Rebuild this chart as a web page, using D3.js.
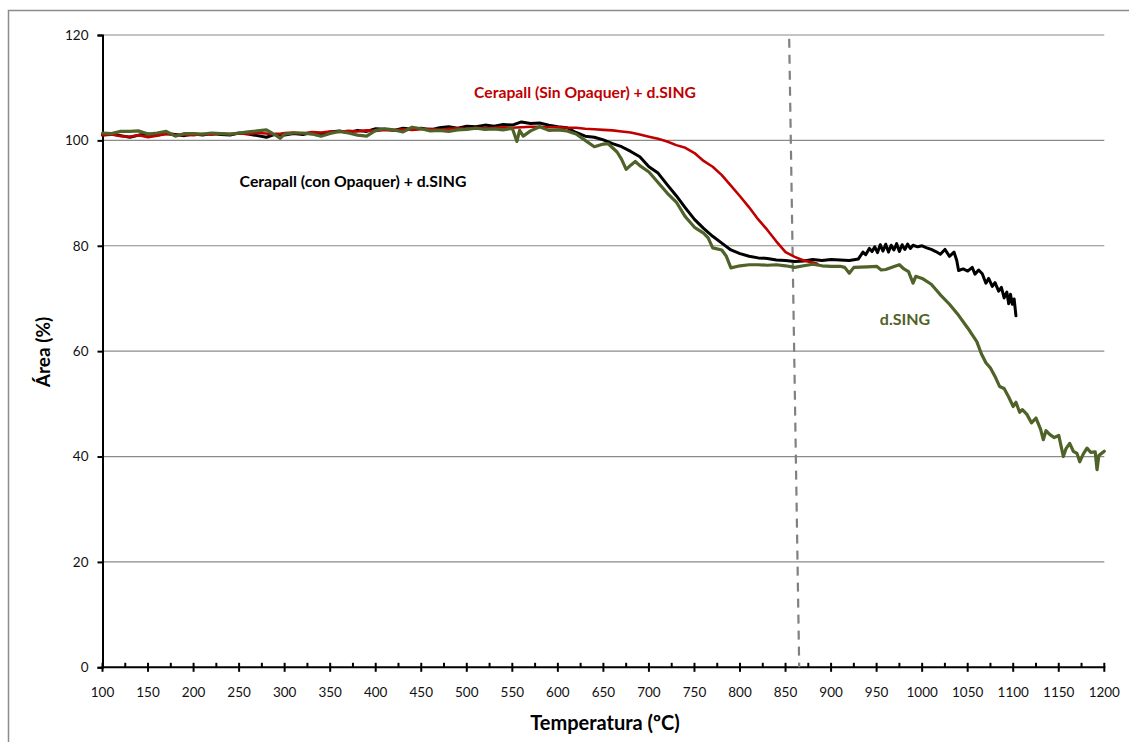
<!DOCTYPE html>
<html>
<head>
<meta charset="utf-8">
<script src="https://cdn.jsdelivr.net/npm/d3@7"></script>
<style>
  html, body { margin: 0; padding: 0; background: #fff; }
  svg { display: block; font-family: Lato, "Liberation Sans", sans-serif; }
</style>
</head>
<body>
<svg id="chart" width="1129" height="742"></svg>
<script>
// Cerapall (Sin Opaquer) + d.SING
const sinTemp = [100,110,120,130,140,150,160,170,180,190,200,210,220,230,240,250,260,270,280,290,300,310,320,330,340,350,360,370,380,390,400,410,420,430,440,450,460,470,480,490,500,510,520,530,540,550,560,570,580,590,600,610,620,630,640,650,660,670,680,690,700,710,720,730,740,750,760,770,780,790,800,810,820,830,840,850,860,870,880,885];
const sinArea = [101.0,101.1,100.8,100.7,101.0,100.6,100.9,101.2,101.0,101.1,101.0,101.2,101.1,101.3,101.2,101.3,101.2,101.4,101.3,101.1,101.4,101.5,101.3,101.6,101.5,101.7,101.6,101.8,101.7,101.9,101.8,102.0,101.9,102.1,102.0,102.1,102.2,102.0,102.2,102.3,102.2,102.4,102.3,102.4,102.5,102.4,102.5,102.6,102.6,102.5,102.5,102.4,102.4,102.2,102.1,102.0,101.9,101.7,101.5,101.1,100.7,100.3,99.8,99.1,98.6,97.6,96.1,95.0,93.4,91.4,89.4,87.3,85.0,83.0,80.8,78.8,77.9,77.2,76.8,76.6];

// Cerapall (con Opaquer) + d.SING
const conTemp = [100,110,120,130,140,150,160,170,180,190,200,210,220,230,240,250,260,270,280,290,300,310,320,330,340,350,360,370,380,390,400,410,420,430,440,450,460,470,480,490,500,510,520,530,540,550,560,570,580,590,600,610,620,630,640,650,660,670,680,690,700,710,720,730,740,750,760,770,780,790,800,810,820,830,840,850,860,870,880,890,900,910,920,930,935,938,942,945,948,951,954,957,960,963,966,969,972,975,978,981,984,987,990,995,1000,1005,1010,1015,1020,1025,1030,1035,1038,1040,1045,1050,1055,1058,1062,1066,1070,1073,1077,1080,1084,1087,1090,1093,1095,1097,1099,1101,1103];
const conArea = [101.0,101.2,100.9,100.6,101.0,101.2,101.0,101.3,101.1,100.9,101.2,101.0,101.3,101.1,101.0,101.4,101.2,100.9,100.6,101.2,101.0,101.3,101.1,101.5,101.2,101.6,101.8,101.5,101.9,101.7,102.2,102.1,101.9,102.3,102.1,102.3,102.0,102.4,102.6,102.3,102.7,102.6,102.9,102.7,103.0,102.9,103.5,103.2,103.3,102.9,102.6,102.4,101.5,100.8,100.6,100.1,99.4,98.8,97.9,96.9,95.0,93.8,91.6,89.5,87.2,85.0,83.3,81.8,80.5,79.2,78.5,78.0,77.7,77.6,77.3,77.2,77.0,77.1,77.4,77.2,77.4,77.3,77.2,77.5,78.8,78.3,79.5,78.9,79.8,78.7,80.2,79.0,80.3,78.8,80.1,79.2,80.4,78.9,80.2,79.3,80.3,79.5,80.1,79.8,80.0,79.6,79.3,78.9,78.4,79.3,78.0,78.8,77.2,75.3,75.6,75.2,75.9,74.6,75.4,74.7,72.9,73.8,72.3,73.0,71.4,72.1,70.1,71.2,69.0,70.8,68.9,69.9,66.7];

// d.SING
const singTemp = [100,110,120,130,140,150,160,170,180,190,200,210,220,230,240,250,260,270,280,290,295,300,310,320,330,340,350,360,370,380,390,400,410,420,430,440,450,460,470,480,490,500,510,520,530,540,550,555,558,562,570,580,590,600,610,620,630,640,650,655,660,665,670,675,680,685,690,700,710,720,730,740,750,760,765,770,780,785,790,800,810,820,830,840,850,860,870,880,890,900,910,915,920,925,940,950,955,960,970,975,980,985,990,993,1000,1010,1020,1030,1040,1050,1060,1065,1070,1075,1080,1085,1090,1095,1100,1103,1107,1110,1115,1120,1125,1130,1133,1136,1140,1145,1150,1155,1158,1162,1166,1170,1173,1177,1181,1185,1190,1192,1194,1197,1200];
const singArea = [101.4,101.3,101.7,101.7,101.8,101.2,101.4,101.7,100.8,101.3,101.3,101.2,101.4,101.3,101.2,101.4,101.6,101.8,102.0,101.0,100.4,101.2,101.4,101.4,101.2,100.8,101.3,101.7,101.4,101.0,100.8,101.9,102.2,102.0,101.6,102.5,102.2,101.8,101.9,101.7,102.0,102.1,102.3,102.1,102.2,102.0,102.3,99.8,101.9,100.8,101.8,102.6,101.9,102.0,101.8,101.2,100.0,98.8,99.3,99.4,98.6,97.8,96.4,94.5,95.3,96.0,95.2,94.0,92.0,90.0,88.3,85.5,83.5,82.4,81.5,79.6,79.2,78.0,75.8,76.2,76.4,76.4,76.3,76.4,76.2,75.9,76.2,76.5,76.2,76.1,76.1,75.9,74.8,75.9,76.0,76.1,75.4,75.5,76.1,76.4,75.6,75.1,72.9,74.2,73.8,72.7,70.7,68.9,66.8,64.4,61.8,59.5,57.8,56.8,55.2,53.3,52.9,51.3,49.5,50.3,48.4,48.9,48.0,46.4,47.3,45.2,43.2,44.9,44.2,43.6,44.0,40.0,41.5,42.5,41.0,40.6,39.0,40.5,41.6,40.8,40.9,37.5,40.2,40.6,41.0];

// Axis ticks
const xTicks = [100,150,200,250,300,350,400,450,500,550,600,650,700,750,800,850,900,950,1000,1050,1100,1150,1200];
const xMinorTicks = [125,175,225,275,325,375,425,475,525,575,625,675,725,775,825,875,925,975,1025,1075,1125,1175];
const yTicks = [0,20,40,60,80,100,120];

// Reference temperature line (from top to bottom of the plot)
const refLineTemp = [854, 865];
const refLineArea = [119.3, 0];

const svg = d3.select("#chart");

const x = d3.scaleLinear().domain([100, 1200]).range([102.5, 1104.3]);
const y = d3.scaleLinear().domain([0, 120]).range([667.3, 35]);

// Chart frame
svg.append("rect")
  .attr("x", 8.5).attr("y", 10.5)
  .attr("width", 1140).attr("height", 760)
  .attr("fill", "none").attr("stroke", "#8c8c8c").attr("stroke-width", 1.5);

// Horizontal gridlines
svg.append("g").selectAll("line")
  .data(yTicks.filter(d => d > 0))
  .join("line")
  .attr("x1", x(100)).attr("x2", x(1200))
  .attr("y1", d => y(d)).attr("y2", d => y(d))
  .attr("stroke", "#8a8a8a").attr("stroke-width", 1.2);

// Y axis
const yAxis = svg.append("g")
  .attr("transform", `translate(${x(100)},0)`)
  .call(d3.axisLeft(y).tickValues(yTicks).tickSize(5).tickPadding(9));
yAxis.select(".domain").attr("stroke", "#000").attr("stroke-width", 2);
yAxis.selectAll(".tick line").attr("stroke", "#000").attr("stroke-width", 2);
yAxis.selectAll(".tick text").attr("font-size", 13.5).attr("fill", "#111")
  .attr("font-family", "Lato, sans-serif");

// X axis: major ticks cross the axis, minor ticks point inward
const xAxisG = svg.append("g");
xAxisG.append("line")
  .attr("x1", x(100) - 1).attr("x2", x(1200) + 1)
  .attr("y1", y(0)).attr("y2", y(0))
  .attr("stroke", "#000").attr("stroke-width", 2);
xAxisG.selectAll("line.major")
  .data(xTicks).join("line").attr("class", "major")
  .attr("x1", d => x(d)).attr("x2", d => x(d))
  .attr("y1", y(0) - 4.5).attr("y2", y(0) + 4.5)
  .attr("stroke", "#000").attr("stroke-width", 2);
xAxisG.selectAll("line.minor")
  .data(xMinorTicks).join("line").attr("class", "minor")
  .attr("x1", d => x(d)).attr("x2", d => x(d))
  .attr("y1", y(0) - 4.5).attr("y2", y(0))
  .attr("stroke", "#000").attr("stroke-width", 2);
xAxisG.selectAll("text")
  .data(xTicks).join("text")
  .attr("x", d => x(d)).attr("y", y(0) + 30)
  .attr("text-anchor", "middle")
  .attr("font-size", 13.5).attr("fill", "#111")
  .text(d => d);

// Dashed reference line
svg.append("line")
  .attr("x1", x(refLineTemp[0])).attr("y1", y(refLineArea[0]))
  .attr("x2", x(refLineTemp[1])).attr("y2", y(refLineArea[1]))
  .attr("stroke", "#808080").attr("stroke-width", 2.2)
  .attr("stroke-dasharray", "9,7");

// Series
const line = d3.line().x(d => x(d[0])).y(d => y(d[1]));
const series = [
  { t: conTemp, a: conArea, color: "#000000", w: 3 },
  { t: sinTemp, a: sinArea, color: "#c00000", w: 2.6 },
  { t: singTemp, a: singArea, color: "#4f6228", w: 3.2 }
];
svg.append("g").selectAll("path")
  .data(series)
  .join("path")
  .attr("d", s => line(d3.zip(s.t, s.a)))
  .attr("fill", "none")
  .attr("stroke", s => s.color)
  .attr("stroke-width", s => s.w)
  .attr("stroke-linejoin", "round")
  .attr("stroke-linecap", "round");

// Series labels
svg.append("text").attr("x", 585).attr("y", 98)
  .attr("text-anchor", "middle").attr("font-weight", "bold").attr("font-size", 15.7)
  .attr("fill", "#c00000").text("Cerapall (Sin Opaquer) + d.SING");
svg.append("text").attr("x", 353).attr("y", 187)
  .attr("text-anchor", "middle").attr("font-weight", "bold").attr("font-size", 15.8)
  .attr("fill", "#000").text("Cerapall (con Opaquer) + d.SING");
svg.append("text").attr("x", 905).attr("y", 325)
  .attr("text-anchor", "middle").attr("font-weight", "bold").attr("font-size", 16)
  .attr("fill", "#4f6228").text("d.SING");

// Axis titles
svg.append("text").attr("x", 605).attr("y", 730)
  .attr("text-anchor", "middle").attr("font-weight", "bold").attr("font-size", 20)
  .attr("fill", "#000").text("Temperatura (ºC)");
svg.append("text")
  .attr("transform", "translate(50,352) rotate(-90)")
  .attr("text-anchor", "middle").attr("font-weight", "bold").attr("font-size", 19)
  .attr("fill", "#000").text("Área (%)");
</script>
</body>
</html>
